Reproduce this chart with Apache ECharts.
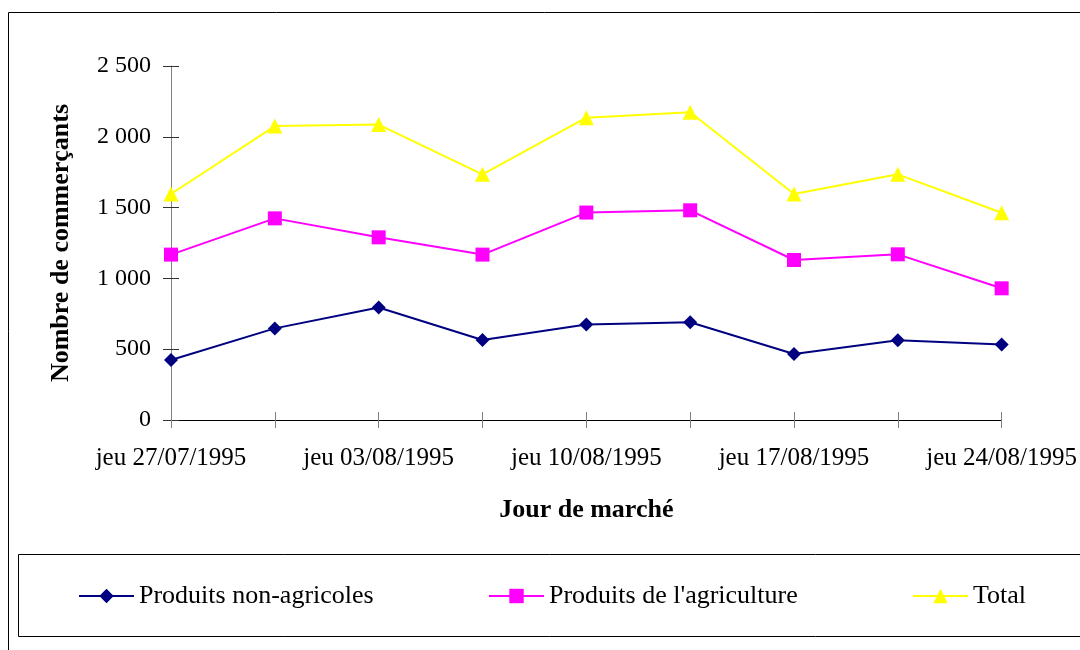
<!DOCTYPE html>
<html>
<head>
<meta charset="utf-8">
<script src="https://cdn.jsdelivr.net/npm/echarts@6/dist/echarts.min.js"></script>
<style>
html,body{margin:0;padding:0;background:#fff;}
#chart{width:1080px;height:650px;}
</style>
</head>
<body>
<div id="chart"></div>
<script>
const categories = ['jeu 27/07/1995','lun 31/07/1995','jeu 03/08/1995','lun 07/08/1995','jeu 10/08/1995','lun 14/08/1995','jeu 17/08/1995','lun 21/08/1995','jeu 24/08/1995'];
const nonAgricoles = [424, 647, 795, 565, 675, 690, 466, 563, 534];
const agriculture = [1168, 1424, 1290, 1168, 1465, 1481, 1130, 1170, 930];
const total = [1596, 2076, 2086, 1735, 2135, 2173, 1596, 1735, 1464];
const seriesNames = ['Produits non-agricoles', "Produits de l'agriculture", 'Total'];
const yTicks = [0, 500, 1000, 1500, 2000, 2500];

const FONT = '"Liberation Serif", "Times New Roman", serif';
const chart = echarts.init(document.getElementById('chart'), null, {renderer: 'canvas'});
function fmt(v){ const s = String(v); return s.length > 3 ? s.slice(0, s.length-3) + ' ' + s.slice(-3) : s; }

const legendBase = {
  top: 583, itemWidth: 55, itemHeight: 18, itemGap: 5, padding: 0,
  textStyle: {fontFamily: FONT, fontSize: 26, color: '#000'},
  selectedMode: false
};

chart.setOption({
  animation: false,
  backgroundColor: '#fff',
  grid: {left: 171, right: 76, top: 66, bottom: 230},
  legend: [
    Object.assign({left: 78, data: [seriesNames[0]]}, legendBase),
    Object.assign({left: 488, data: [seriesNames[1]]}, legendBase),
    Object.assign({left: 912, data: [seriesNames[2]]}, legendBase)
  ],
  graphic: [
    {type: 'rect', shape: {x: 8.5, y: 12.5, width: 1100, height: 700}, style: {fill: 'none', stroke: '#000', lineWidth: 1}, silent: true, z: -1},
    {type: 'rect', shape: {x: 18.5, y: 554.5, width: 1100, height: 82}, style: {fill: 'none', stroke: '#000', lineWidth: 1}, silent: true, z: -1}
  ],
  xAxis: [{
    type: 'category', data: categories, boundaryGap: false,
    axisLine: {lineStyle: {color: '#000', width: 1}},
    axisTick: {show: true, length: 8, inside: false, interval: 0, lineStyle: {color: '#808080'}},
    axisLabel: {interval: 1, margin: 26, fontFamily: FONT, fontSize: 25, color: '#000'},
    name: 'Jour de marché', nameLocation: 'middle', nameGap: 77,
    nameTextStyle: {fontFamily: FONT, fontSize: 26, fontWeight: 'bold', color: '#000'}
  }, {
    type: 'category', data: categories, boundaryGap: false, position: 'bottom',
    axisLine: {show: false},
    axisTick: {show: true, length: 8, inside: true, interval: 0, lineStyle: {color: '#808080'}},
    axisLabel: {show: false}
  }],
  yAxis: [{
    type: 'value', min: 0, max: 2500, interval: 500,
    splitLine: {show: false},
    axisLine: {show: true, lineStyle: {color: '#808080', width: 1}},
    axisTick: {show: true, length: 8, inside: false, lineStyle: {color: '#333'}},
    axisLabel: {margin: 20, fontFamily: FONT, fontSize: 24, color: '#000', formatter: fmt},
    name: 'Nombre de commerçants', nameLocation: 'middle', nameGap: 97, nameRotate: 90,
    nameTextStyle: {fontFamily: FONT, fontSize: 26, fontWeight: 'bold', color: '#000'}
  }, {
    type: 'value', min: 0, max: 2500, interval: 500, position: 'left',
    splitLine: {show: false}, axisLine: {show: false},
    axisTick: {show: true, length: 8, inside: true, lineStyle: {color: '#333'}},
    axisLabel: {show: false}
  }],
  series: [
    {name: seriesNames[0], type: 'line', data: nonAgricoles, symbol: 'diamond', symbolSize: 14,
     lineStyle: {color: '#000080', width: 2}, itemStyle: {color: '#000080'}},
    {name: seriesNames[1], type: 'line', data: agriculture, symbol: 'rect', symbolSize: 14,
     lineStyle: {color: '#FF00FF', width: 2}, itemStyle: {color: '#FF00FF'}},
    {name: seriesNames[2], type: 'line', data: total, symbol: 'triangle', symbolSize: 15,
     lineStyle: {color: '#FFFF00', width: 2}, itemStyle: {color: '#FFFF00'}}
  ]
});
</script>
</body>
</html>
